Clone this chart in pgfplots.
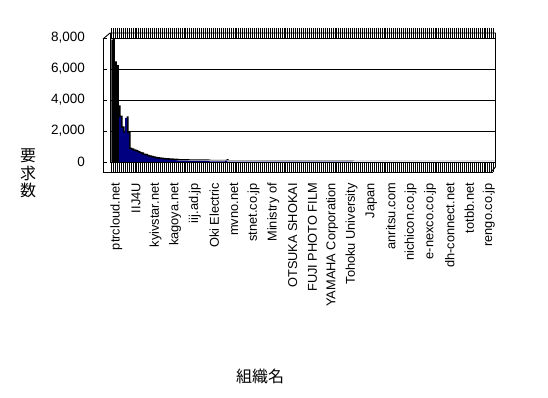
\documentclass[border=0pt]{standalone}
\usepackage{fontspec}
\setmainfont{Liberation Sans}
\newfontfamily\cjk{Noto Sans CJK JP}
\usepackage{pgfplots}
\usepackage{pgfplotstable}
\pgfplotsset{compat=1.18}
\definecolor{barblue}{RGB}{0,0,128}

\pgfplotstableread{
i v
0 7900
1 6400
2 6150
3 3550
4 2900
5 2200
6 1900
7 2850
8 1850
9 830
10 790
11 720
12 690
13 620
14 560
15 520
16 450
17 420
18 370
19 330
20 300
21 270
22 240
23 220
24 200
25 185
26 170
27 155
28 145
29 135
30 130
31 125
32 115
33 105
34 95
35 90
36 90
37 85
38 85
39 80
40 80
41 78
42 75
43 75
44 72
45 70
46 68
47 65
48 65
49 62
50 40
51 38
52 38
53 36
54 35
55 35
56 34
57 33
58 85
59 32
60 32
61 31
62 31
63 30
64 30
65 30
66 29
67 29
68 29
69 28
70 28
71 28
72 27
73 27
74 27
75 26
76 26
77 26
78 25
79 25
80 25
81 24
82 24
83 24
84 24
85 23
86 23
87 23
88 23
89 22
90 22
91 22
92 22
93 21
94 21
95 21
96 21
97 20
98 20
99 20
100 20
101 20
102 19
103 19
104 19
105 19
106 19
107 18
108 18
109 18
110 18
111 18
112 17
113 17
114 17
115 17
116 17
117 16
118 16
119 16
120 16
121 16
122 16
123 15
124 15
125 15
126 15
127 15
128 15
129 14
130 14
131 14
132 14
133 14
134 14
135 13
136 13
137 13
138 13
139 13
140 13
141 12
142 12
143 12
144 12
145 12
146 12
147 11
148 11
149 11
150 11
151 11
152 11
153 11
154 10
155 10
156 10
157 10
158 10
159 10
160 10
161 9
162 9
163 9
164 9
165 9
166 9
167 9
168 9
169 8
170 8
171 8
172 8
173 8
174 8
175 8
176 8
177 7
178 7
179 7
180 7
181 7
182 7
183 7
184 7
185 7
186 6
187 6
188 6
189 6
190 6
191 6
192 6
193 6
194 6
}\data

\begin{document}
\begin{tikzpicture}
\useasboundingbox (0pt,0pt) rectangle (548pt,398pt);
\begin{axis}[
  at={(110pt,236pt)}, anchor=south west,
  scale only axis, width=385.5pt, height=124pt,
  xmin=-1.2, xmax=195.4, ymin=0, ymax=8000,
  ybar, bar width=1,
  axis line style={draw=none},
  ymajorgrids, grid style={black, line width=0.9pt},
  ytick={0,2000,4000,6000,8000},
  yticklabels={0,{2,000},{4,000},{6,000},{8,000}},
  y tick style={draw=none},
  yticklabel style={anchor=east, inner sep=0pt, xshift=-25pt, font=\fontsize{13.5}{13.5}\selectfont},
  xtick={0,10,...,190},
  xticklabels={ptrcloud.net,IIJ4U,kyivstar.net,kagoya.net,iij.ad.jp,Oki Electric,mvno.net,stnet.co.jp,Ministry of,OTSUKA SHOKAI,FUJI PHOTO FILM,YAMAHA Corporation,Tohoku University,Japan,anritsu.com,nichicon.co.jp,e-nexco.co.jp,dh-connect.net,totbb.net,rengo.co.jp},
  major tick length=0pt,
  minor xtick={-0.5,0.5,...,194.5},
  minor tick length=10pt,
  tick align=outside,
  x tick style={black, line width=0.8pt},
  xticklabel style={xshift=4pt, rotate=90, anchor=east, inner sep=0pt, font=\fontsize{12.8}{12.8}\selectfont},
  xticklabel shift=21pt,
]
\addplot[fill=black, draw=none, bar shift=1.5pt, yshift=1.5pt] table[x=i,y=v]{\data};
\addplot[fill=black, draw=none, bar shift=0pt, restrict x to domain=-1:3.5] table[x=i,y=v]{\data};
\addplot[fill=barblue, draw=none, bar shift=0pt, restrict x to domain=3.5:200] table[x=i,y=v]{\data};
\end{axis}
% frame
\draw[black, line width=0.9pt] (103pt,359pt) -- (103pt,226pt) -- (493pt,226pt);
\draw[black, line width=0.9pt] (103pt,359pt) -- (110pt,365pt) -- (495.5pt,365pt) -- (495.5pt,231pt);
\draw[black, line width=0.9pt] (110pt,365pt) -- (110pt,236pt);
\draw[black, line width=0.9pt] (491pt,226pt) -- (495.5pt,231pt);
\foreach \yy in {360,329,298,267,236} {\draw[black, line width=0.9pt] (103pt,\yy pt) -- (107pt,\yy pt);}
% axis titles
\node[font=\cjk\fontsize{16}{16}\selectfont, inner sep=0pt] at (28pt,242pt) {要};
\node[font=\cjk\fontsize{16}{16}\selectfont, inner sep=0pt] at (28pt,225pt) {求};
\node[font=\cjk\fontsize{16}{16}\selectfont, inner sep=0pt] at (28pt,208pt) {数};
\node[font=\cjk\fontsize{16}{16}\selectfont, inner sep=0pt] at (260pt,22pt) {組織名};
\end{tikzpicture}
\end{document}
